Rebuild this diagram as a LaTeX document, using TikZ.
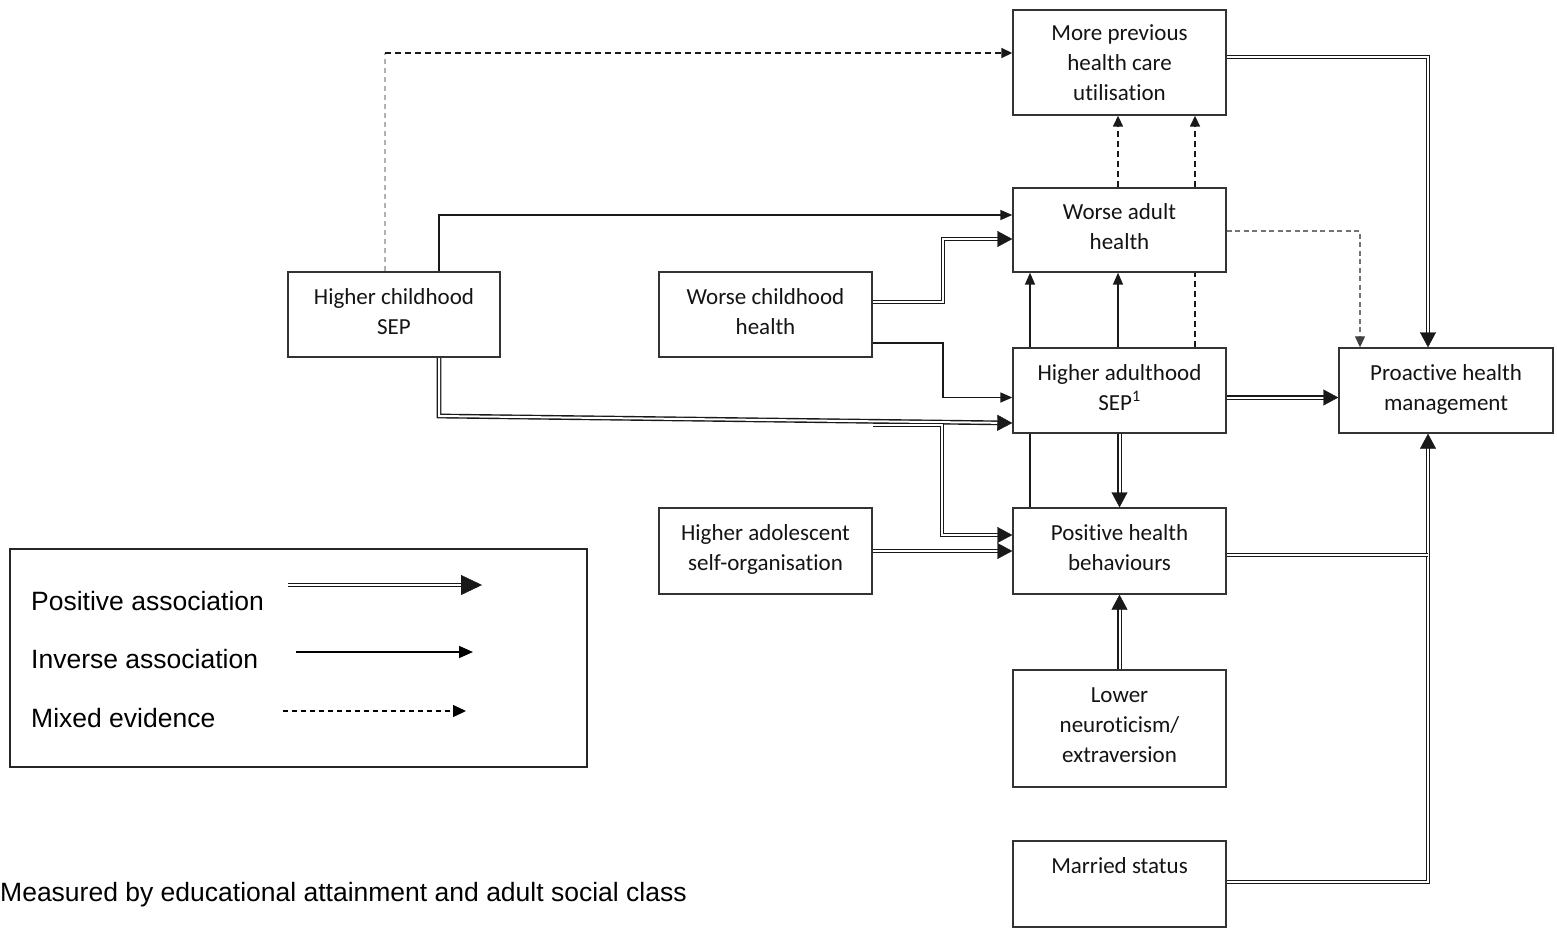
\documentclass[tikz,border=0pt]{standalone}
\usepackage{fontspec}
\setmainfont{Carlito}[Ligatures=NoCommon]
\newfontfamily\arialfont{Liberation Sans}
\usetikzlibrary{arrows.meta,decorations.markings,calc}
\pgfdeclarelayer{bg}
\pgfsetlayers{bg,main}

\begin{document}
\begin{tikzpicture}[x=1pt,y=-1pt,
  box/.style={draw=black!80, line width=1.4pt, fill=white, align=center,
    text=black!92, font=\fontsize{23}{30}\selectfont, inner sep=0pt, text depth=6pt},
  legtext/.style={inner sep=0pt, text=black, font=\arialfont\fontsize{26.5}{30}\selectfont},
  posline/.style={line width=1.4pt, double distance=2pt, draw=black!90},
  posarr/.style={posline, shorten >=13pt, postaction={decorate},
    decoration={markings, mark=at position 1 with
      {\arrow[line width=0.4pt]{Triangle[length=15pt,width=16pt]}}}},
  invarr/.style={line width=1.6pt, draw=black!90, -{Triangle[length=12pt,width=10pt]}},
  mixarr/.style={line width=1.6pt, draw=black!90, dash pattern=on 6pt off 4pt,
    -{Triangle[length=11pt,width=10pt]}},
  mixlight/.style={line width=1.1pt, draw=black!55, dash pattern=on 5pt off 3.5pt,
    -{Triangle[length=11pt,width=10pt,color=black!75]}},
  mixfaint/.style={line width=1.2pt, draw=black!30, dash pattern=on 5pt off 4pt}
]
\useasboundingbox (0,0) rectangle (1557,929);

% boxes
\node[box, text depth=0pt, minimum width=213pt, minimum height=105pt] (prev) at (1119.5,62.5) {More previous\\health care\\utilisation};
\node[box, minimum width=213pt, minimum height=84pt] (wah) at (1119.5,230) {Worse adult\\health};
\node[box, minimum width=212pt, minimum height=85pt] (hcs) at (394,314.5) {Higher childhood\\SEP};
\node[box, minimum width=213pt, minimum height=85pt] (wch) at (765.5,314.5) {Worse childhood\\health};
\node[box, minimum width=213pt, minimum height=85pt] (has) at (1119.5,390.5) {Higher adulthood\\SEP\textsuperscript{1}};
\node[box, minimum width=214pt, minimum height=85pt] (phm) at (1446,390.5) {Proactive health\\management};
\node[box, minimum width=213pt, minimum height=86pt] (haso) at (765.5,551) {Higher adolescent\\self-organisation};
\node[box, minimum width=213pt, minimum height=86pt] (phb) at (1119.5,551) {Positive health\\behaviours};
\node[box, minimum width=213pt, minimum height=117pt] (ln) at (1119.5,728.5) {Lower\\neuroticism/\\extraversion};
\node[box, minimum width=213pt, minimum height=86pt] (ms) at (1119.5,884) {Married status\\\mbox{}};

% connectors
\begin{pgfonlayer}{bg}
  % childhood SEP -> health care utilisation
  \coordinate (m1) at (385,53);
  \draw[mixfaint] (hcs.north -| m1) -- (m1);
  \draw[mixarr] (m1) -- (m1 -| prev.west);
  % childhood SEP -> adult health
  \coordinate (i1) at (439,215);
  \draw[invarr] (hcs.north -| i1) -- (i1) -- (i1 -| wah.west);
  % childhood SEP -> adulthood SEP and health behaviours
  \coordinate (p1) at (439,416);
  \coordinate (p1e) at ($(has.west)+(0,32.5)$);
  \draw[posarr] (hcs.south -| p1) -- (p1) -- (p1e);
  \coordinate (b0) at (873,425);
  \coordinate (b1) at (942,425);
  \draw[posarr] (b0) -- (b1) |- ($(phb.west)+(0,-16)$);
  % childhood health
  \coordinate (w1) at (943,302);
  \draw[posarr] (wch.east |- w1) -- (w1) |- ($(wah.west)+(0,9)$);
  \coordinate (w2) at (943,343);
  \draw[invarr] (wch.east |- w2) -- (w2) |- ($(has.west)+(0,7)$);
  % adolescent self-organisation
  \draw[posarr] (haso.east) -- (phb.west);
  % adulthood SEP -> adult health
  \draw[invarr] ($(has.north)+(-1.5,0)$) -- ($(wah.south)+(-1.5,0)$);
  % health behaviours -> adult health
  \coordinate (x1) at (1030,0);
  \draw[invarr] (phb.north -| x1) -- (wah.south -| x1);
  % adulthood SEP -> health care utilisation
  \coordinate (x2) at (1195,0);
  \draw[mixarr] (has.north -| x2) -- (prev.south -| x2);
  % adult health -> health care utilisation
  \draw[mixarr] ($(wah.north)+(-1.5,0)$) -- ($(prev.south)+(-1.5,0)$);
  % adult health -> proactive management
  \coordinate (g1) at (1360,231);
  \draw[mixlight] (wah.east |- g1) -- (g1) -- (g1 |- phm.north);
  % health care utilisation -> proactive management
  \coordinate (r1) at (1428,57);
  \draw[posarr] (prev.east |- r1) -- (r1) -- (r1 |- phm.north);
  % adulthood SEP -> proactive management / health behaviours
  \draw[posarr] ($(has.east)+(0,7)$) -- ($(phm.west)+(0,7)$);
  \draw[posarr] (has.south) -- (phb.north);
  % personality -> health behaviours
  \draw[posarr] (ln.north) -- (phb.south);
  % married status -> proactive management
  \coordinate (r3) at (1428,882);
  \draw[posarr] (ms.east |- r3) -- (r3) -- (r3 |- phm.south);
  % health behaviours -> proactive management (joins the line above)
  \coordinate (r2) at (1428,555);
  \draw[posline] (phb.east |- r2) -- (r2);
\end{pgfonlayer}

% legend
\node[draw=black!85, line width=1.1pt, minimum width=577pt, minimum height=218pt, inner sep=0pt] (leg) at (298.5,658) {};
\node[legtext, anchor=base west] (lp) at (31,610) {Positive association};
\node[legtext, anchor=base west] (li) at (31,668) {Inverse association};
\node[legtext, anchor=base west] (lm) at (31,727) {Mixed evidence};
\coordinate (lp0) at (288,585);
\coordinate (lp1) at (482,585);
\draw[posline, shorten >=19pt, postaction={decorate},
  decoration={markings, mark=at position 1 with {\arrow[line width=0.4pt]{Triangle[length=21pt,width=20pt]}}}]
  (lp0) -- (lp1);
\coordinate (li0) at (296,652);
\coordinate (li1) at (473,652);
\draw[line width=1.6pt, -{Triangle[length=14pt,width=12pt]}] (li0) -- (li1);
\coordinate (lm0) at (283,711);
\coordinate (lm1) at (466,711);
\draw[line width=1.4pt, dash pattern=on 5pt off 4pt, -{Triangle[length=13pt,width=12pt]}] (lm0) -- (lm1);

% footnote
\node[legtext, anchor=base west] (fn) at (0,901) {Measured by educational attainment and adult social class};
\end{tikzpicture}
\end{document}
